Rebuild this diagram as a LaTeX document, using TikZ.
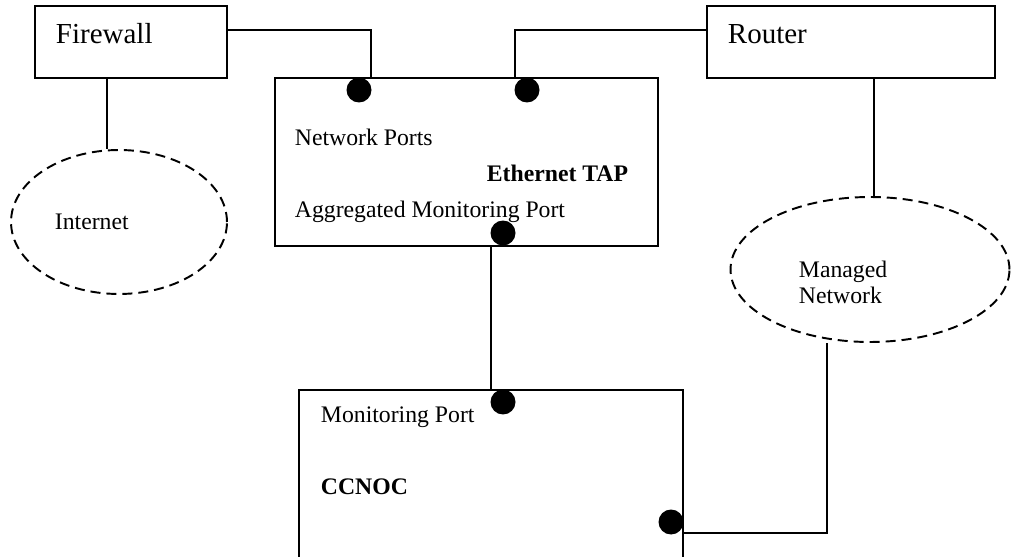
\documentclass[tikz,border=0pt]{standalone}
\usepackage{fontspec}
\setmainfont{Liberation Serif}
\usetikzlibrary{shapes,positioning,calc}

\begin{document}
\begin{tikzpicture}[x=0.02cm, y=-0.02cm, line width=1.1pt,
  box/.style={draw, rectangle, inner sep=0pt},
  cloud/.style={draw, ellipse, dash pattern=on 5.7pt off 3.4pt, inner sep=0pt},
  port/.style={circle, fill=black, inner sep=0pt, minimum size=0.5cm},
  lbl/.style={inner sep=0pt, anchor=base west, font=\fontsize{13.5}{15.4}\selectfont},
  big/.style={inner sep=0pt, anchor=base west, font=\fontsize{16.5}{19}\selectfont}]
  \useasboundingbox (0,0) rectangle (1011,557);
  \clip (0,0) rectangle (1011,557);

  % Firewall and router boxes
  \node[box, minimum width=3.84cm, minimum height=1.44cm] (firewall) at (131,42) {};
  \node[big] (fwtext) at (55,44) {Firewall};
  \node[box, minimum width=5.76cm, minimum height=1.44cm] (router) at (851,42) {};
  \node[big] (rttext) at (727,44) {Router};

  % Ethernet TAP box
  \node[box, minimum width=7.66cm, minimum height=3.36cm] (tap) at (466.5,162) {};
  \node[lbl] (netports) at (294,146) {Network Ports};
  \node[lbl, anchor=base east] (taptext) at (629,182) {\textbf{Ethernet TAP}};
  \node[lbl] (aggport) at (294,218) {Aggregated Monitoring Port};

  % CCNOC box (runs off the bottom)
  \node[box, minimum width=7.68cm, minimum height=3.4cm] (ccnoc) at (491,475) {};
  \node[lbl] (monport) at (320,422) {Monitoring Port};
  \node[lbl] (cctext) at (320,494) {\textbf{CCNOC}};

  % Networks
  \node[cloud, minimum width=4.32cm, minimum height=2.88cm] (internet) at (119,222) {};
  \node[lbl] (inettext) at (54,230) {Internet};
  \node[cloud, minimum width=5.58cm, minimum height=2.9cm] (managed) at (870,269.5) {};
  \node[lbl] (mgdtext) at (798,277) {Managed};
  \node[lbl] (mgdtext2) at ([yshift=-0.54cm]mgdtext.base west) {Network};

  % Links
  \coordinate (fwlink) at (371,30);
  \coordinate (rtlink) at (515,30);
  \draw (firewall.east |- fwlink) -| (tap.north -| fwlink);
  \draw (router.west |- rtlink) -| (tap.north -| rtlink);
  \draw (firewall.south -| 107,0) -- (internet.north -| 107,0);
  \draw (router.south -| 874,0) -- (managed.north -| 874,0);
  \draw (tap.south -| 491,0) -- (ccnoc.north -| 491,0);
  \coordinate (mglink) at (827,533);
  \draw (ccnoc.east |- mglink) -| (managed.south -| mglink);

  % Ports
  \node[port] (p1) at (359,90) {};
  \node[port] (p2) at (527,90) {};
  \node[port] (p3) at (503,233) {};
  \node[port] (p4) at (503,402) {};
  \node[port] (p5) at (671,522) {};
\end{tikzpicture}
\end{document}
